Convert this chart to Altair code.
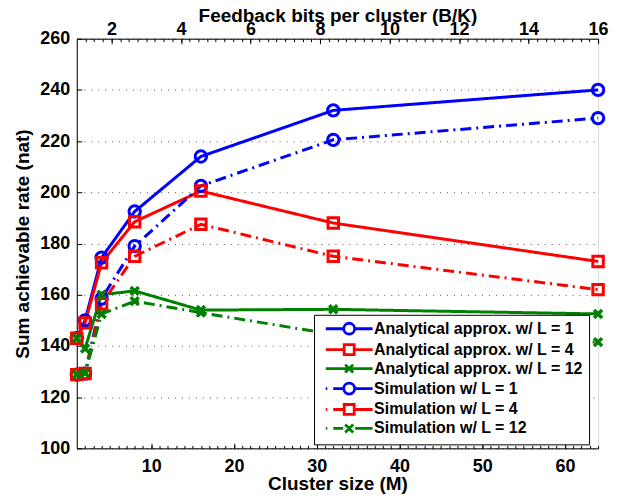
import altair as alt
import pandas as pd

# ---------------- data ----------------
M = [1, 2, 4, 8, 16, 32, 64]
ana_L1 = [143, 150, 174.5, 192.5, 214, 232, 240]
ana_L4 = [143, 149, 172.5, 188.5, 200.5, 188, 173]
ana_L12 = [143, 139, 160, 161.5, 154, 154.3, 152.5]
sim_L1 = [128.8, 129.2, 158.5, 179, 202.5, 220.5, 229]
sim_L4 = [128.8, 129.2, 156.5, 175, 187.5, 175, 162]
sim_L12 = [128.8, 129.4, 152.5, 157.5, 153, 144.5, 141.5]

series_names = [
    "Analytical approx. w/ L = 1",
    "Analytical approx. w/ L = 4",
    "Analytical approx. w/ L = 12",
    "Simulation w/ L = 1",
    "Simulation w/ L = 4",
    "Simulation w/ L = 12",
]
series_values = [ana_L1, ana_L4, ana_L12, sim_L1, sim_L4, sim_L12]
series_markers = ["circle", "square", "cross", "circle", "square", "cross"]
series_styles = ["Analytical", "Analytical", "Analytical", "Simulation", "Simulation", "Simulation"]

bottom_ticks = [10, 20, 30, 40, 50, 60]
bottom_minor = list(range(2, 65))
top_ticks = [2, 4, 6, 8, 10, 12, 14, 16]
top_minor = [1 + 0.25 * i for i in range(1, 61)]
y_ticks = [100, 120, 140, 160, 180, 200, 220, 240, 260]

# ---------------- styles ----------------
FONT = "Liberation Sans"
colors = ["#0000ff", "#ff0000", "#008000", "#0000ff", "#ff0000", "#008000"]
CROSS = "M-1,-1L1,1M-1,1L1,-1"
legend_paths = [
    "M-4.7,0H-1.1M1.1,0H4.7M1.1,0A1.1,1.1 0 1,1 -1.1,0A1.1,1.1 0 1,1 1.1,0",
    "M-4.7,0H-1M1,0H4.7M-1,-1H1V1H-1Z",
    "M-4.7,0H4.7M-0.8,-0.8L0.8,0.8M-0.8,0.8L0.8,-0.8",
    "M-4.7,0H-4.4M-3.2,0H-1.1M1.1,0H4.7M1.1,0A1.1,1.1 0 1,1 -1.1,0A1.1,1.1 0 1,1 1.1,0",
    "M-4.7,0H-4.4M-3.2,0H-1M1,0H4.7M-1,-1H1V1H-1Z",
    "M-4.7,0H-4.4M-3.2,0H-1.2M-0.8,-0.8L0.8,0.8M-0.8,0.8L0.8,-0.8M1.2,0H4.7",
]

rows = []
for name, vals, mk, st in zip(series_names, series_values, series_markers, series_styles):
    for m, v in zip(M, vals):
        rows.append({"M": m, "rate": v, "series": name, "marker": mk, "style": st})
df = pd.DataFrame(rows)
df_top = pd.DataFrame({"B": top_ticks})

x_scale = alt.Scale(domain=[1, 64], nice=False, zero=False)
y_scale = alt.Scale(domain=[100, 260], nice=False, zero=False)
top_scale = alt.Scale(domain=[1, 16], nice=False, zero=False)
color_scale = alt.Scale(domain=series_names, range=colors)
dash_scale = alt.Scale(domain=["Analytical", "Simulation"], range=[[1, 0], [11, 5, 2, 5]])

label_style = dict(labelFont=FONT, labelFontSize=18, labelFontWeight="bold",
                   labelColor="black", labelFlush=False)
title_style = dict(titleFont=FONT, titleFontSize=19, titleFontWeight="bold",
                   titleColor="black")

x_enc = alt.X("M:Q", scale=x_scale, axis=alt.Axis(
    orient="bottom", values=bottom_ticks, ticks=False, domain=True,
    domainColor="black", domainWidth=1, grid=False, labelPadding=9,
    title="Cluster size (M)", titleY=41, titleBaseline="alphabetic",
    **label_style, **title_style))
y_enc = alt.Y("rate:Q", scale=y_scale, axis=alt.Axis(
    orient="left", values=y_ticks, ticks=False, domain=True,
    domainColor="black", domainWidth=1, grid=True, gridDash=[1, 6],
    gridColor="#555555", gridWidth=1, labelPadding=7,
    title="Sum achievable rate (nat)", titleX=-48, titleBaseline="alphabetic",
    **label_style, **title_style))
color_enc = alt.Color("series:N", scale=color_scale)

legend_def = dict(
    title=None, orient="none", legendX=238, legendY=277,
    strokeColor="black", fillColor="white", padding=6, rowPadding=-2,
    labelFont=FONT, labelFontSize=16, labelFontWeight="bold", labelColor="black",
    labelLimit=400, symbolSize=100, symbolStrokeWidth=2.8, symbolOffset=21.3,
    labelOffset=17, symbolFillColor="transparent", cornerRadius=0,
)
# legend-only layer (draws no marks, only carries the legend)
legend_layer = alt.Chart(df).transform_filter("false").mark_point(
    filled=False, opacity=1).encode(
    color=alt.Color("series:N", scale=color_scale, legend=alt.Legend(**legend_def)),
    shape=alt.Shape("series:N", scale=alt.Scale(domain=series_names, range=legend_paths),
                    legend=alt.Legend(**legend_def)),
)

lines = alt.Chart(df).mark_line(strokeWidth=3).encode(
    x=x_enc, y=y_enc, color=color_enc,
    strokeDash=alt.StrokeDash("style:N", scale=dash_scale, legend=None),
    detail="series:N",
)

point_layers = []
for mk, shp, size, sw in [("circle", "circle", 130, 3), ("square", "square", 110, 3),
                          ("cross", CROSS, 64, 3.5)]:
    point_layers.append(
        alt.Chart(df).transform_filter(alt.datum.marker == mk)
        .mark_point(shape=shp, filled=False, size=size, strokeWidth=sw, opacity=1)
        .encode(x=x_enc, y=y_enc, color=color_enc)
    )

main = alt.layer(legend_layer, lines, *point_layers)

tick_style = dict(labels=False, domain=False, grid=False, title=None,
                  tickColor="black", tickWidth=1)

bottom_major = alt.Chart(df).mark_point(opacity=0).encode(
    x=alt.X("M:Q", scale=x_scale, axis=alt.Axis(orient="bottom", values=bottom_ticks,
                                                offset=-5, tickSize=5, **tick_style)),
    y=alt.Y("rate:Q", scale=y_scale, axis=alt.Axis(orient="left", values=y_ticks,
                                                   offset=-5, tickSize=5, **tick_style)),
)
bottom_min = alt.Chart(df).mark_point(opacity=0).encode(
    x=alt.X("M:Q", scale=x_scale, axis=alt.Axis(orient="bottom", values=bottom_minor,
                                                offset=-3, tickSize=3, **tick_style)),
)
top_axis = alt.Chart(df_top).mark_point(opacity=0).encode(
    x=alt.X("B:Q", scale=top_scale, axis=alt.Axis(
        orient="top", values=top_ticks, ticks=False, domain=True, domainColor="black",
        domainWidth=1, grid=False, labelPadding=0.5,
        title="Feedback bits per cluster (B/K)", titleY=-17.3, titleBaseline="alphabetic",
        **label_style, **title_style)),
)
top_major = alt.Chart(df_top).mark_point(opacity=0).encode(
    x=alt.X("B:Q", scale=top_scale, axis=alt.Axis(orient="top", values=top_ticks,
                                                  offset=-5, tickSize=5, **tick_style)),
)
top_min = alt.Chart(df_top).mark_point(opacity=0).encode(
    x=alt.X("B:Q", scale=top_scale, axis=alt.Axis(orient="top", values=top_minor,
                                                  offset=-3, tickSize=3, **tick_style)),
)

chart = alt.layer(main, bottom_major, bottom_min, top_axis, top_major, top_min).resolve_scale(
    x="independent", y="independent"
).properties(
    width=523, height=411,
    padding={"left": 69, "top": 30, "right": 20, "bottom": 45},
    autosize=alt.AutoSizeParams(type="none"),
).configure_view(stroke=None).configure(background="white")

chart.save("out.html", embed_options={"renderer": "svg", "actions": False})
